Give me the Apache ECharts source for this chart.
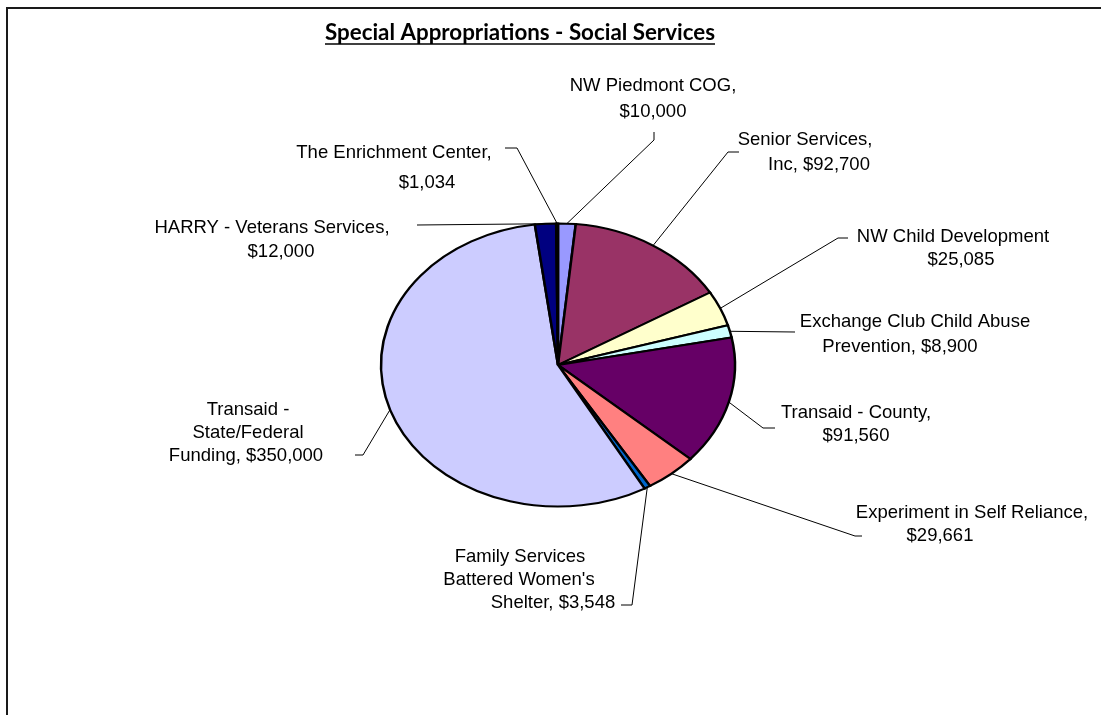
<!DOCTYPE html>
<html>
<head>
<meta charset="utf-8">
<title>Special Appropriations - Social Services</title>
<script src="https://cdn.jsdelivr.net/npm/echarts@6/dist/echarts.min.js"></script>
<style>
  html, body { margin: 0; padding: 0; background: #fff; }
  #chart { width: 1101px; height: 715px; }
</style>
</head>
<body>
<div id="chart"></div>
<script>
// slices in Excel order, clockwise from 12 o'clock
const names = [
  'NW Piedmont COG',
  'Senior Services,\nInc',
  'NW Child Development',
  'Exchange Club Child Abuse\nPrevention',
  'Transaid - County',
  'Experiment in Self Reliance',
  "Family Services\nBattered Women's\nShelter",
  'Transaid -\nState/Federal\nFunding',
  'HARRY - Veterans Services',
  'The Enrichment Center'
];
const values = [10000, 92700, 25085, 8900, 91560, 29661, 3548, 350000, 12000, 1034];
// how the value is joined onto the name in each label
const labelSep = [',\n', ', ', '\n', ', ', ',\n', ',\n', ', ', ', ', ',\n', ',\n'];

// old Excel palette
const colors = ['#9999FF', '#993366', '#FFFFCC', '#CCFFFF', '#660066',
                '#FF8080', '#0066CC', '#CCCCFF', '#000080', '#FF00FF'];

// where Excel put each label (line centres) and the leader line bend/end
const labelLayout = [
  { xs: [653, 653], y: 86, lh: 26, line: [[654, 140], [654, 132]] },
  { xs: [805, 819], y: 140, lh: 25, line: [[728, 152], [739, 152]] },
  { xs: [953, 961], y: 237, lh: 23, line: [[838, 238], [848, 238]] },
  { xs: [915, 900], y: 322, lh: 25, line: [[795, 332]] },
  { xs: [856, 856], y: 413, lh: 23, line: [[763, 428], [775, 428]] },
  { xs: [972, 940], y: 513, lh: 23, line: [[855, 536], [862, 536]] },
  { xs: [520, 519, 553], y: 557, lh: 23, line: [[632, 605], [621, 605]] },
  { xs: [248, 248, 246], y: 410, lh: 23, line: [[363, 455], [355, 455]] },
  { xs: [272, 281], y: 228, lh: 24, line: [[417, 225]] },
  { xs: [394, 427], y: 153, lh: 30, line: [[517, 148], [505, 148]] }
];

// pie geometry: Excel stretched the pie into an ellipse
const CX = 558, CY = 365, R = 177, SY = 0.8;
const labelFont = '18.5px "Liberation Sans", Arial, sans-serif';

const total = values.reduce((a, b) => a + b, 0);
const cum = [];
let acc = 0;
values.forEach(v => { cum.push(acc); acc += v; });

const money = v => '$' + v.toLocaleString('en-US');

function renderItem(params, api) {
  const i = params.dataIndex;
  const v = api.value(0);
  const a0 = -Math.PI / 2 + 2 * Math.PI * cum[i] / total;
  const a1 = a0 + 2 * Math.PI * v / total;
  const am = (a0 + a1) / 2;
  const ex = CX + R * Math.cos(am);
  const ey = CY + R * SY * Math.sin(am);
  const lay = labelLayout[i];
  const lines = (names[i] + labelSep[i] + money(v)).split('\n');

  const children = [
    {
      type: 'sector',
      x: CX, y: CY, scaleY: SY,
      shape: { cx: 0, cy: 0, r0: 0, r: R, startAngle: a0, endAngle: a1, clockwise: true },
      style: { fill: colors[i], stroke: '#000', lineWidth: 2.5, strokeNoScale: true }
    },
    {
      type: 'polyline',
      shape: { points: [[ex, ey]].concat(lay.line) },
      style: { stroke: '#000', lineWidth: 1, fill: null }
    }
  ];
  lines.forEach((t, k) => {
    children.push({
      type: 'text',
      x: lay.xs[k], y: lay.y + k * lay.lh,
      style: { text: t, font: labelFont, fill: '#000', align: 'center', verticalAlign: 'middle' }
    });
  });
  return { type: 'group', children: children };
}

// fit the title to the width it has in the picture
const titleText = 'Special Appropriations - Social Services';
const ctx = document.createElement('canvas').getContext('2d');
ctx.font = 'bold 20px Lato';
const titleSize = 20 * 390 / ctx.measureText(titleText).width;

const chart = echarts.init(document.getElementById('chart'));
chart.setOption({
  animation: false,
  backgroundColor: '#fff',
  graphic: [
    {
      type: 'rect',
      shape: { x: 7, y: 8, width: 1200, height: 800 },
      style: { fill: null, stroke: '#1a1a1a', lineWidth: 2 }
    },
    {
      type: 'text',
      x: 520, y: 33,
      style: {
        text: titleText,
        font: 'bold ' + titleSize.toFixed(2) + 'px Lato, sans-serif',
        fill: '#000', align: 'center', verticalAlign: 'middle'
      }
    },
    {
      type: 'line',
      shape: { x1: 325, y1: 44, x2: 715, y2: 44 },
      style: { stroke: '#000', lineWidth: 1.5 }
    }
  ],
  series: [
    {
      type: 'custom',
      coordinateSystem: 'none',
      renderItem: renderItem,
      data: values
    }
  ]
});
</script>
</body>
</html>
